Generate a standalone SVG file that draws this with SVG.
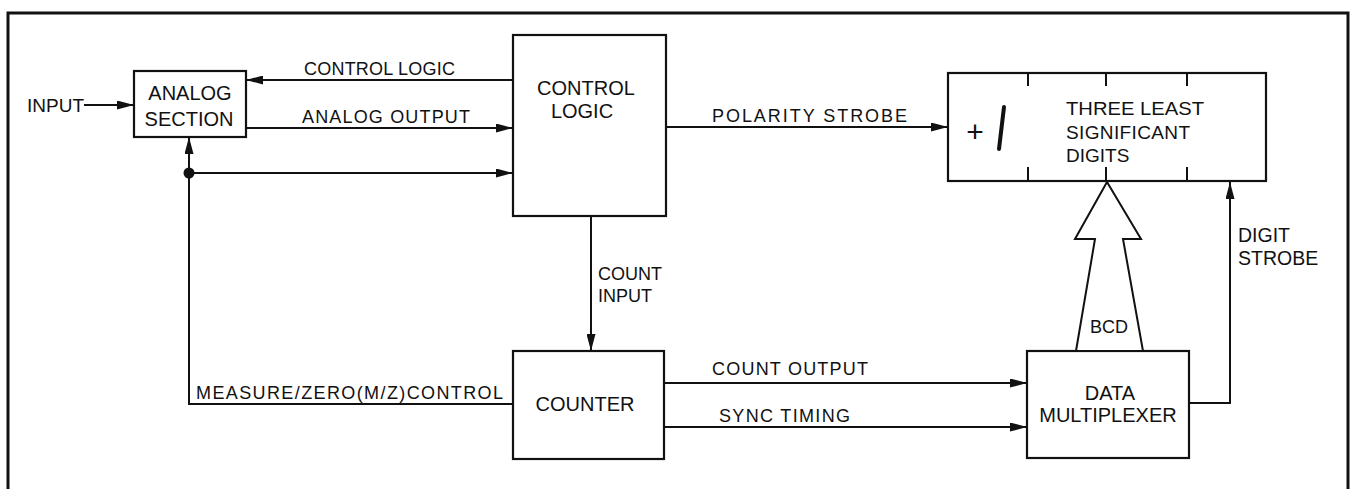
<svg xmlns="http://www.w3.org/2000/svg" width="1355" height="489" viewBox="0 0 1355 489">
<style>
.box{fill:none;stroke:#111;stroke-width:2.2}
.ln{fill:none;stroke:#111;stroke-width:2}
.t{font-family:"Liberation Sans",Arial,sans-serif;fill:#111;font-size:18px}
.b{font-size:20px}
.s19{font-size:19px}
.s195{font-size:19.5px}
.plus{font-size:30px}
.m{text-anchor:middle}
</style>
<defs>
<marker id="ah" markerUnits="userSpaceOnUse" markerWidth="17" markerHeight="9" refX="17" refY="4.5" orient="auto">
<path d="M0,0 L17,4.5 L0,9 z" fill="#111"/>
</marker>
</defs>
<rect width="1355" height="489" fill="#fff"/>
<path d="M8,489 V13 H1348 V489" fill="none" stroke="#111" stroke-width="3"/>

<g id="analog-section">
<rect class="box" x="134" y="71" width="112" height="66"/>
<text class="t b m" x="190" y="100">ANALOG</text>
<text class="t b m" x="189" y="126">SECTION</text>
</g>

<g id="control-logic">
<rect class="box" x="513" y="35" width="153" height="181"/>
<text class="t b m" x="586" y="95">CONTROL</text>
<text class="t b m" x="582" y="118">LOGIC</text>
</g>

<g id="digits-display">
<rect class="box" x="948" y="73" width="318" height="108"/>
<path class="ln" d="M1028,73 V86 M1106,73 V86 M1187,73 V86 M1028,167 V181 M1106,167 V181 M1187,167 V181"/>
<text class="t m plus" x="975" y="142">+</text>
<line x1="1004" y1="107" x2="999" y2="149" stroke="#111" stroke-width="4" stroke-linecap="round"/>
<text class="t s19" x="1066" y="115" textLength="138" lengthAdjust="spacingAndGlyphs">THREE LEAST</text>
<text class="t s19" x="1066" y="139" textLength="124" lengthAdjust="spacing">SIGNIFICANT</text>
<text class="t s19" x="1066" y="162">DIGITS</text>
</g>

<g id="counter">
<rect class="box" x="513" y="351" width="151" height="108"/>
<text class="t b m" x="585" y="411">COUNTER</text>
</g>

<g id="data-multiplexer">
<rect class="box" x="1027" y="351" width="162" height="107"/>
<text class="t b m" x="1110" y="400">DATA</text>
<text class="t b m" x="1108" y="422">MULTIPLEXER</text>
</g>

<g id="connectors">
<line class="ln" x1="84" y1="105" x2="134" y2="105" marker-end="url(#ah)"/>
<line class="ln" x1="513" y1="80" x2="246" y2="80" marker-end="url(#ah)"/>
<line class="ln" x1="246" y1="128" x2="513" y2="128" marker-end="url(#ah)"/>
<line class="ln" x1="189" y1="173" x2="513" y2="173" marker-end="url(#ah)"/>
<line class="ln" x1="189" y1="173" x2="189" y2="137" marker-end="url(#ah)"/>
<circle cx="189" cy="173" r="5.5" fill="#111"/>
<path class="ln" d="M189,173 V404 H513"/>
<line class="ln" x1="666" y1="127" x2="948" y2="127" marker-end="url(#ah)"/>
<line class="ln" x1="591" y1="216" x2="591" y2="351" marker-end="url(#ah)"/>
<line class="ln" x1="664" y1="383" x2="1027" y2="383" marker-end="url(#ah)"/>
<line class="ln" x1="664" y1="427" x2="1027" y2="427" marker-end="url(#ah)"/>
<path class="ln" d="M1189,403 H1230 V182" marker-end="url(#ah)"/>
<polygon points="1076,351 1095,239 1075,239 1107,182 1141,239 1123,239 1143,351" fill="#fff" stroke="#111" stroke-width="2"/>
</g>

<g id="labels">
<text class="t s19" x="27" y="112">INPUT</text>
<text class="t" x="304" y="75" textLength="151" lengthAdjust="spacing">CONTROL LOGIC</text>
<text class="t" x="302" y="123" textLength="168" lengthAdjust="spacing">ANALOG OUTPUT</text>
<text class="t" x="712" y="122" textLength="195" lengthAdjust="spacing">POLARITY STROBE</text>
<text class="t" x="598" y="280">COUNT</text>
<text class="t" x="598" y="302">INPUT</text>
<text class="t" x="196" y="399" textLength="307" lengthAdjust="spacing">MEASURE/ZERO(M/Z)CONTROL</text>
<text class="t" x="712" y="375" textLength="156" lengthAdjust="spacing">COUNT OUTPUT</text>
<text class="t" x="719" y="422" textLength="131" lengthAdjust="spacing">SYNC TIMING</text>
<text class="t m" x="1109" y="333">BCD</text>
<text class="t s195" x="1238" y="242">DIGIT</text>
<text class="t s195" x="1238" y="265">STROBE</text>
</g>
</svg>
